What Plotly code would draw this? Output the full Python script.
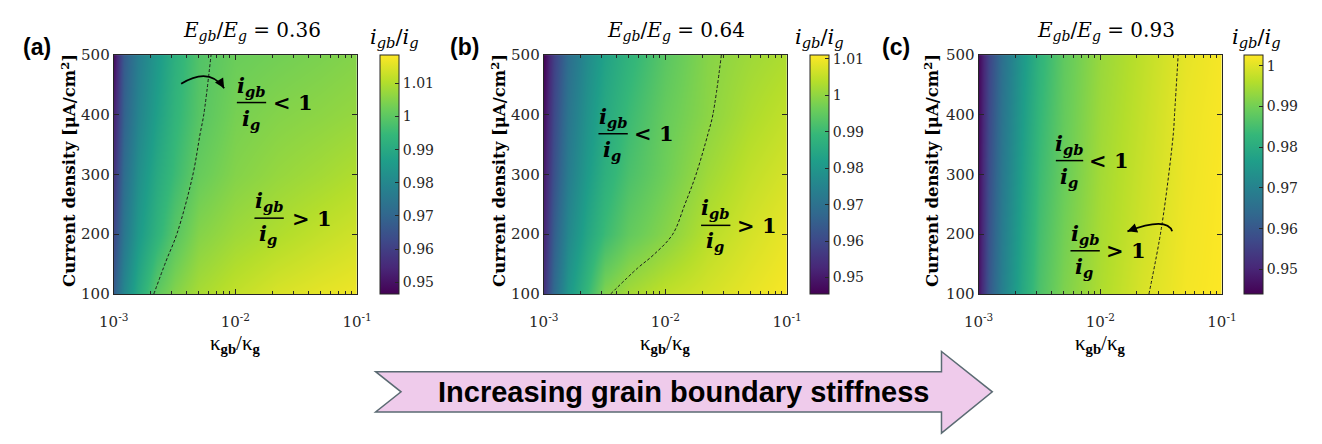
import math
import plotly.graph_objects as go

W, H = 1322, 444

# ---------------- data ----------------
log_kappa = [-3.0, -2.92, -2.8, -2.65, -2.5, -2.3, -2.0, -1.65, -1.3, -1.0]   # log10(kappa_gb/kappa_g)
current_density = [100, 200, 300, 400, 500]                                   # uA/cm^2

ratio_a = [
    [0.968, 0.980, 0.990, 1.0005, 1.005, 1.009, 1.012, 1.0145, 1.016, 1.017],
    [0.962, 0.975, 0.985, 0.993, 0.9995, 1.005, 1.008, 1.010, 1.012, 1.0135],
    [0.957, 0.972, 0.982, 0.990, 0.9955, 1.0015, 1.005, 1.007, 1.0085, 1.010],
    [0.953, 0.969, 0.979, 0.987, 0.9935, 0.9993, 1.0035, 1.005, 1.006, 1.007],
    [0.949, 0.967, 0.977, 0.985, 0.992, 0.9986, 1.002, 1.003, 1.004, 1.005],
]
ratio_b = [
    [0.955, 0.968, 0.980, 0.989, 0.9985, 1.002, 1.005, 1.007, 1.009, 1.0105],
    [0.952, 0.965, 0.976, 0.984, 0.990, 0.995, 0.999, 1.004, 1.007, 1.009],
    [0.950, 0.962, 0.973, 0.981, 0.987, 0.992, 0.9965, 1.0015, 1.005, 1.007],
    [0.948, 0.960, 0.971, 0.979, 0.985, 0.990, 0.9955, 0.9995, 1.003, 1.005],
    [0.946, 0.958, 0.969, 0.977, 0.983, 0.988, 0.994, 0.999, 1.0015, 1.003],
]
ratio_c = [
    [0.947, 0.960, 0.970, 0.979, 0.986, 0.991, 0.9955, 0.9993, 1.0018, 1.0026],
    [0.9465, 0.959, 0.969, 0.978, 0.985, 0.990, 0.995, 0.9985, 1.0015, 1.0025],
    [0.946, 0.958, 0.968, 0.977, 0.984, 0.989, 0.9945, 0.998, 1.0012, 1.0024],
    [0.9455, 0.957, 0.967, 0.976, 0.983, 0.9885, 0.994, 0.9975, 1.001, 1.0022],
    [0.945, 0.956, 0.966, 0.975, 0.982, 0.988, 0.9935, 0.997, 1.0005, 1.002],
]

# i_gb/i_g = 1 boundary (dashed line)
bound_a_y = [100, 155, 201, 299, 368, 400, 500]
bound_a_x = [-2.67, -2.57, -2.48, -2.35, -2.29, -2.26, -2.20]
bound_b_y = [100, 143, 165, 200, 250, 299, 368, 400, 500]
bound_b_x = [-2.45, -2.23, -2.10, -1.94, -1.84, -1.75, -1.65, -1.61, -1.54]
bound_c_y = [100, 214, 368, 400, 500]
bound_c_x = [-1.60, -1.495, -1.40, -1.39, -1.36]

energy_ratio = ["0.36", "0.64", "0.93"]
panel_tags = ["(a)", "(b)", "(c)"]
cbar_ranges = [(0.9465, 1.0185), (0.9455, 1.011), (0.944, 1.0026)]
cbar_ticks = [
    [0.95, 0.96, 0.97, 0.98, 0.99, 1.00, 1.01],
    [0.95, 0.96, 0.97, 0.98, 0.99, 1.00, 1.01],
    [0.95, 0.96, 0.97, 0.98, 0.99, 1.00],
]
x_tick_vals = [-3, -2, -1]
x_tick_text = ["10<sup>-3</sup>", "10<sup>-2</sup>", "10<sup>-1</sup>"]
y_tick_vals = [100, 200, 300, 400, 500]

# ---------------- layout geometry (pixels) ----------------
plot_x = [(101, 350), (541, 790), (986, 1235)]
plot_y = (48, 297)
cbar_left = [373, 813, 1258]
title_cx = [242, 676, 1116]
cbar_title_cx = [388, 823, 1270]
tag_cx = [22, 460, 901]
ytitle_cx = [55, 495, 938]

SERIF = "DejaVu Serif"
SERIF2 = "Liberation Serif"
SANS = "Liberation Sans"
AX = "#262626"


def fx(p):
    return p / W


def fy(p):
    return 1 - p / H


minor_vals = [math.log10(k) + e for e in (-3, -2) for k in range(2, 10)]

fig = go.Figure()
ratios = [ratio_a, ratio_b, ratio_c]
bounds = [(bound_a_x, bound_a_y), (bound_b_x, bound_b_y), (bound_c_x, bound_c_y)]

annotations = []
shapes = []
layout_axes = {}

for i in range(3):
    xn = "x" if i == 0 else f"x{i+1}"
    yn = "y" if i == 0 else f"y{i+1}"
    zmin, zmax = cbar_ranges[i]
    fig.add_trace(go.Heatmap(
        x=log_kappa, y=current_density, z=ratios[i],
        zsmooth="best", colorscale="Viridis", zmin=zmin, zmax=zmax,
        xaxis=xn, yaxis=yn, hoverinfo="skip",
        colorbar=dict(
            x=fx(cbar_left[i]), xanchor="left", xpad=0,
            y=fy((plot_y[0] + plot_y[1]) / 2), yanchor="middle", ypad=0,
            len=(plot_y[1] - plot_y[0]) / H, lenmode="fraction",
            thickness=19, thicknessmode="pixels",
            outlinewidth=1, outlinecolor=AX,
            tickvals=cbar_ticks[i],
            ticktext=[("1" if abs(v - 1) < 1e-9 else f"{v:.2f}") for v in cbar_ticks[i]],
            ticks="inside", ticklen=4, tickcolor=AX,
            tickfont=dict(family=SERIF, size=14, color=AX),
        ),
    ))
    bx, by = bounds[i]
    fig.add_trace(go.Scatter(
        x=bx, y=by, mode="lines", xaxis=xn, yaxis=yn,
        line=dict(color="#1a1a1a", width=1, dash="3px,2px", shape="spline", smoothing=1.0),
        hoverinfo="skip", showlegend=False,
    ))
    xk = "xaxis" if i == 0 else f"xaxis{i+1}"
    yk = "yaxis" if i == 0 else f"yaxis{i+1}"
    layout_axes[xk] = dict(
        domain=[fx(plot_x[i][0]), fx(plot_x[i][1])], range=[-3, -1],
        anchor=yn, tickvals=x_tick_vals, ticktext=x_tick_text,
        ticks="inside", ticklen=5, tickcolor=AX, tickwidth=1,
        showline=True, linecolor=AX, linewidth=1, mirror="ticks",
        showgrid=False, zeroline=False, ticklabelstandoff=14,
        tickfont=dict(family=SERIF, size=15, color=AX),
        minor=dict(tickvals=minor_vals, ticks="inside", ticklen=3, tickcolor=AX),
    )
    layout_axes[yk] = dict(
        domain=[fy(plot_y[1]), fy(plot_y[0])], range=[100, 500],
        anchor=xn, tickvals=y_tick_vals,
        ticks="inside", ticklen=5, tickcolor=AX, tickwidth=1,
        showline=True, linecolor=AX, linewidth=1, mirror="ticks",
        showgrid=False, zeroline=False,
        tickfont=dict(family=SERIF, size=15, color=AX),
    )
    pcx = (plot_x[i][0] + plot_x[i][1]) / 2
    # panel title
    annotations.append(dict(
        x=fx(title_cx[i]), y=fy(23), xref="paper", yref="paper",
        text=f"<i>E</i><sub><i>gb</i></sub>/<i>E</i><sub><i>g</i></sub> = {energy_ratio[i]}",
        showarrow=False, xanchor="center", yanchor="middle",
        font=dict(family=SERIF, size=20, color="black"),
    ))
    # colorbar title
    annotations.append(dict(
        x=fx(cbar_title_cx[i]), y=fy(30), xref="paper", yref="paper",
        text="<i>i</i><sub><i>gb</i></sub>/<i>i</i><sub><i>g</i></sub>",
        showarrow=False, xanchor="center", yanchor="middle",
        font=dict(family=SERIF, size=21, color="black"),
    ))
    # panel tag
    annotations.append(dict(
        x=fx(tag_cx[i]), y=fy(40), xref="paper", yref="paper",
        text=f"<b>{panel_tags[i]}</b>", showarrow=False,
        xanchor="center", yanchor="middle",
        font=dict(family=SANS, size=23, color="black"),
    ))
    # y title
    annotations.append(dict(
        x=fx(ytitle_cx[i]), y=fy(168), xref="paper", yref="paper",
        text="<b>Current density [μA/cm<sup>2</sup>]</b>", textangle=-90,
        showarrow=False, xanchor="center", yanchor="middle",
        font=dict(family=SERIF, size=16.5, color="black"),
    ))
    # x title
    annotations.append(dict(
        x=fx(pcx), y=fy(349), xref="paper", yref="paper",
        text="κ<sub><b>gb</b></sub>/κ<sub><b>g</b></sub>",
        showarrow=False, xanchor="center", yanchor="middle",
        font=dict(family=SERIF2, size=21, color="black"),
    ))


def add_frac(cx, bar_y, half_w, rel, rel_left, size=21):
    annotations.append(dict(
        x=fx(cx), y=fy(bar_y - 1), xref="paper", yref="paper",
        text="<b><i>i<sub>gb</sub></i></b>", showarrow=False,
        xanchor="center", yanchor="bottom",
        font=dict(family=SERIF, size=size, color="black"),
    ))
    annotations.append(dict(
        x=fx(cx - 1), y=fy(bar_y + 1), xref="paper", yref="paper",
        text="<b><i>i<sub>g</sub></i></b>", showarrow=False,
        xanchor="center", yanchor="top",
        font=dict(family=SERIF, size=size, color="black"),
    ))
    shapes.append(dict(
        type="line", xref="paper", yref="paper",
        x0=fx(cx - half_w), x1=fx(cx + half_w), y0=fy(bar_y), y1=fy(bar_y),
        line=dict(color="black", width=1.5),
    ))
    annotations.append(dict(
        x=fx(rel_left), y=fy(bar_y), xref="paper", yref="paper",
        text=f"<b>{rel} 1</b>", showarrow=False,
        xanchor="left", yanchor="middle",
        font=dict(family=SERIF, size=size, color="black"),
    ))


add_frac(242, 97.5, 15, "&lt;", 262)
add_frac(260, 218, 15, "&gt;", 281)
add_frac(612, 130, 15, "&lt;", 631)
add_frac(717, 225.5, 15, "&gt;", 737)
add_frac(1079, 158, 14, "&lt;", 1097)
add_frac(1095, 252, 15, "&gt;", 1114)


def P(xp, yp):
    return f"{fx(xp):.5f} {fy(yp):.5f}"


def curved_arrow(p0, c, p2, ax, ay):
    shapes.append(dict(
        type="path", xref="paper", yref="paper",
        path=f"M {P(*p0)} Q {P(*c)} {P(*p2)}",
        line=dict(color="black", width=1.8),
    ))
    annotations.append(dict(
        x=fx(p2[0]), y=fy(p2[1]), xref="paper", yref="paper",
        text="", showarrow=True, arrowhead=2, arrowsize=1.2, arrowwidth=1.6,
        arrowcolor="black", ax=ax, ay=ay,
    ))


curved_arrow((170, 78), (198.5, 60), (214, 82.5), -5, -8)
curved_arrow((1184, 231.7), (1178.9, 216.3), (1138.3, 231.7), 8, -3)

# big "increasing stiffness" arrow
arrow_path = ("M " + P(369, 378) + " L " + P(948, 378) + " L " + P(948, 357) +
              " L " + P(1000, 399) + " L " + P(948, 442) + " L " + P(948, 420) +
              " L " + P(369, 420) + " L " + P(395, 399) + " Z")
shapes.append(dict(
    type="path", xref="paper", yref="paper", path=arrow_path,
    fillcolor="#efcbeb", line=dict(color="#5b6b73", width=1.5), layer="above",
))
annotations.append(dict(
    x=fx(685), y=fy(399), xref="paper", yref="paper",
    text="<b>Increasing grain boundary stiffness</b>", showarrow=False,
    xanchor="center", yanchor="middle",
    font=dict(family=SANS, size=29, color="black"),
))

fig.update_layout(
    width=W, height=H, margin=dict(l=0, r=0, t=0, b=0),
    paper_bgcolor="white", plot_bgcolor="white", showlegend=False,
    annotations=annotations, shapes=shapes, **layout_axes,
)

fig.write_html("out.html")
